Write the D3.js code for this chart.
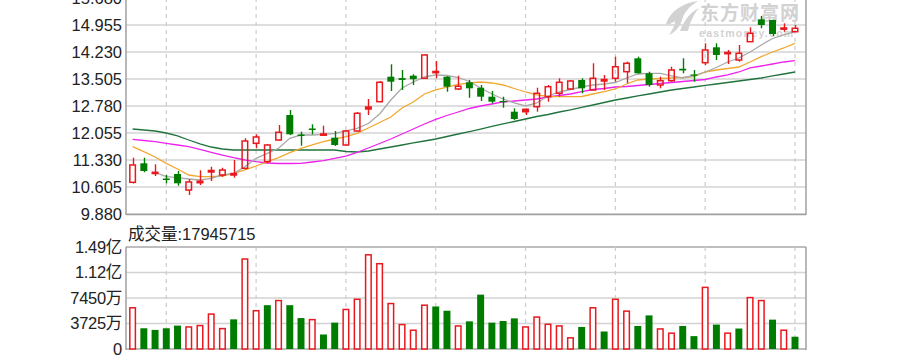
<!DOCTYPE html>
<html><head><meta charset="utf-8">
<script src="https://cdn.jsdelivr.net/npm/d3@7/dist/d3.min.js"></script>
<style>html,body{margin:0;padding:0;background:#fff;}svg{display:block;}</style>
</head><body>
<svg id="c" width="898" height="357"></svg>
<script>
// ---- data ----
const openP  = [10.731,11.241,10.98,10.833,10.954,10.524,10.72,11.008,10.927,10.927,11.107,11.778,11.284,11.867,12.538,12.015,12.176,12.001,11.929,11.733,12.109,12.70,12.896,13.567,13.53,13.594,13.524,13.68,13.567,13.237,13.417,13.271,13.03,12.914,12.627,12.627,12.761,13.03,13.121,13.237,13.478,13.21,13.451,13.524,13.701,14.061,13.658,13.344,13.459,13.78,13.626,13.943,14.356,14.19,14.015,14.507,15.108,15.09,14.848,14.775];
const highP  = [11.392,11.392,11.215,10.927,11.035,10.82,11.053,11.15,11.123,11.33,11.913,12.02,11.76,12.27,12.673,12.09,12.289,12.251,12.109,12.136,12.62,12.968,13.45,13.90,13.747,13.631,14.168,13.989,13.58,13.594,13.478,13.344,13.183,13.03,12.718,12.718,13.271,13.344,13.524,13.478,13.524,13.927,13.613,14.104,13.97,14.104,13.701,13.567,13.835,14.061,13.747,14.464,14.464,14.284,14.418,14.893,15.197,15.10,15.0,14.955];
const lowP   = [10.70,11.00,10.90,10.704,10.64,10.39,10.659,10.766,10.88,10.855,11.08,11.644,11.24,11.85,12.0,11.714,12.02,11.988,11.706,11.72,12.09,12.538,12.88,13.183,13.21,13.344,13.51,13.524,13.164,13.21,13.0,12.914,12.853,12.734,12.404,12.538,12.627,12.896,13.03,13.21,13.121,13.2,13.21,13.433,13.39,13.65,13.298,13.255,13.433,13.658,13.433,13.881,14.015,13.908,13.97,14.50,14.867,14.66,14.775,14.77];
const closeP = [11.196,11.035,11.00,10.793,10.704,10.74,10.76,11.048,11.061,10.967,11.84,11.948,11.733,12.074,12.02,11.975,12.136,12.028,11.733,12.109,12.584,12.753,13.417,13.433,13.48,13.50,14.15,13.707,13.298,13.31,13.255,13.03,12.896,12.888,12.431,12.691,13.121,13.298,13.417,13.451,13.255,13.524,13.492,13.835,13.927,13.658,13.344,13.459,13.747,13.735,13.599,14.284,14.15,14.217,14.195,14.732,14.955,14.713,14.875,14.867];
const volume = [60200000,30300000,27900000,30300000,34200000,32200000,34200000,51000000,29800000,43300000,131400000,55900000,64000000,70750000,64000000,45200000,42900000,21200000,38500000,57750000,72600000,137600000,124600000,66400000,35650000,27450000,64000000,62100000,55900000,33650000,40400000,79400000,38500000,40900000,44750000,32200000,46650000,36100000,33650000,16300000,32200000,60200000,25550000,72600000,55300000,33650000,49100000,29300000,23100000,33650000,18800000,90000000,35650000,23100000,29900000,75100000,70750000,42900000,27450000,17945715];
const ma5  = [null,null,10.994,10.882,10.855,10.820,10.793,10.839,10.927,10.973,11.150,11.376,11.510,11.644,11.913,12.001,12.001,12.020,12.042,12.109,12.181,12.310,12.565,12.941,13.263,13.425,13.559,13.613,13.599,13.545,13.438,13.263,13.102,12.968,12.861,12.780,12.861,13.049,13.156,13.223,13.290,13.344,13.371,13.411,13.532,13.639,13.658,13.658,13.586,13.532,13.599,13.693,13.814,13.962,14.069,14.230,14.418,14.593,14.687,14.775];
const ma10 = [11.687,11.553,11.411,11.241,11.088,10.927,10.882,10.882,10.900,10.973,11.062,11.169,11.284,11.392,11.526,11.644,11.733,11.822,11.894,11.956,12.047,12.189,12.337,12.485,12.726,12.888,13.102,13.210,13.290,13.358,13.398,13.425,13.398,13.344,13.250,13.156,13.076,13.035,13.030,13.030,13.035,13.102,13.169,13.237,13.371,13.478,13.505,13.519,13.532,13.545,13.567,13.693,13.747,13.787,13.827,13.962,14.104,14.230,14.338,14.464];
const ma20 = [11.886,11.854,11.822,11.779,11.733,11.687,11.617,11.537,11.464,11.392,11.330,11.284,11.250,11.236,11.236,11.241,11.276,11.311,11.376,11.437,11.537,11.652,11.773,11.894,12.028,12.163,12.297,12.418,12.525,12.619,12.713,12.780,12.834,12.888,12.914,12.941,12.968,13.022,13.062,13.102,13.169,13.223,13.250,13.290,13.304,13.331,13.357,13.384,13.411,13.438,13.465,13.492,13.559,13.613,13.693,13.801,13.854,13.908,13.962,13.997];
const ma60 = [12.162,12.136,12.109,12.055,11.975,11.867,11.760,11.679,11.625,11.599,11.599,11.599,11.599,11.599,11.599,11.599,11.599,11.599,11.599,11.558,11.545,11.572,11.625,11.679,11.733,11.787,11.840,11.894,11.961,12.028,12.095,12.162,12.230,12.297,12.364,12.431,12.498,12.552,12.619,12.673,12.740,12.807,12.874,12.941,12.995,13.049,13.102,13.156,13.210,13.250,13.290,13.331,13.371,13.411,13.451,13.492,13.532,13.586,13.639,13.693];
const priceTicks = [9.880,10.605,11.330,12.055,12.780,13.505,14.230,14.955,15.680];
const volTicks = [0,37250000,74500000,111750000,149000000];
const volTickLabels = ["0","3725万","7450万","1.12亿","1.49亿"];
const volTitle = "成交量:17945715";

// ---- drawing ----
const RED = "#e8191e", GREEN = "#007d00";
const svg = d3.select("#c");
const n = closeP.length;
const L = 126, R = 806;
const x = d3.scaleBand().domain(d3.range(n)).range([127, 800.6]).paddingInner(0.38).paddingOuter(0.19);
const cx = i => x(i) + x.bandwidth()/2;
const y = d3.scaleLinear().domain([9.88, 15.68]).range([214, -2]);
const yv = d3.scaleLinear().domain([0, 149000000]).range([349, 247]);
const font = "'Liberation Sans', Arial, 'Noto Sans CJK SC', sans-serif";

// watermark
const wm = svg.append("g").attr("fill", "#d2d2d2");
wm.append("path").attr("d", "M666,24 C670,11 683,3 698,1 C690,6 684,12 682,20 C680,26 676,32 669,35 C673,29 675,25 675,21 C672,23 669,25 666,24 Z");
wm.append("path").attr("d", "M680,31 C684,21 690,12 699,8 C694,14 690,22 688,31 Z");
wm.append("text").attr("x", 700).attr("y", 20).attr("font-family", "'Noto Sans CJK SC', sans-serif").attr("font-size", 19).attr("font-weight", "bold").attr("letter-spacing", 1).text("东方财富网");
wm.append("text").attr("x", 699).attr("y", 37).attr("font-family", font).attr("font-size", 10.5).attr("font-weight","bold").attr("letter-spacing", 1.3).text("eastmoney.com");

// price grid
const gp = svg.append("g");
gp.selectAll("line.h").data(priceTicks).join("line")
  .attr("x1", L).attr("x2", R).attr("y1", d => y(d)).attr("y2", d => y(d))
  .attr("stroke", "#d3d3d3").attr("stroke-width", 1.5);
const vIdx = d3.range(3, n, 8);
gp.selectAll("line.v").data(vIdx).join("line")
  .attr("x1", d => cx(d)).attr("x2", d => cx(d)).attr("y1", -2).attr("y2", 214)
  .attr("stroke", "#cccccc").attr("stroke-width", 1.2).attr("stroke-dasharray", "4,4");
// volume grid
const gv = svg.append("g");
gv.selectAll("line.h").data(volTicks).join("line")
  .attr("x1", L).attr("x2", R).attr("y1", d => yv(d)).attr("y2", d => yv(d))
  .attr("stroke", (d,i) => (i===0||i===volTicks.length-1) ? "#a8a8a8" : "#d3d3d3").attr("stroke-width", 1.5);
gv.selectAll("line.v").data(vIdx).join("line")
  .attr("x1", d => cx(d)).attr("x2", d => cx(d)).attr("y1", 247).attr("y2", 349)
  .attr("stroke", "#cccccc").attr("stroke-width", 1.2).attr("stroke-dasharray", "4,4");

// borders
svg.append("line").attr("x1", L).attr("x2", L).attr("y1", -2).attr("y2", 215).attr("stroke", "#a0a0a0").attr("stroke-width", 1.5);
svg.append("line").attr("x1", R).attr("x2", R).attr("y1", -2).attr("y2", 215).attr("stroke", "#a0a0a0").attr("stroke-width", 1.5);
svg.append("line").attr("x1", L).attr("x2", R).attr("y1", 214.5).attr("y2", 214.5).attr("stroke", "#a0a0a0").attr("stroke-width", 1.5);
svg.append("line").attr("x1", L).attr("x2", L).attr("y1", 247).attr("y2", 350).attr("stroke", "#a0a0a0").attr("stroke-width", 1.5);
svg.append("line").attr("x1", R).attr("x2", R).attr("y1", 247).attr("y2", 350).attr("stroke", "#a0a0a0").attr("stroke-width", 1.5);

// axis labels (via d3 axes)
const ay = svg.append("g").attr("transform", `translate(${L-4},0)`)
  .call(d3.axisLeft(y).tickValues(priceTicks).tickFormat(d3.format(".3f")).tickSize(0).tickPadding(0));
ay.select(".domain").remove();
ay.selectAll("text").attr("font-family", font).attr("font-size", 16.5).attr("fill", "#222");
const av = svg.append("g").attr("transform", `translate(${L-4},0)`)
  .call(d3.axisLeft(yv).tickValues(volTicks).tickFormat((d,i) => volTickLabels[i]).tickSize(0).tickPadding(0));
av.select(".domain").remove();
av.selectAll("text").attr("font-family", font).attr("font-size", 16.5).attr("fill", "#222").attr("letter-spacing", -0.3);
svg.append("text").attr("x", 128).attr("y", 240).attr("font-family", font).attr("font-size", 16.5).attr("fill", "#222").text(volTitle);

// MA lines
const maDefs = [[ma60, "#20733c"], [ma20, "#ee22ee"], [ma10, "#f0a830"], [ma5, "#a9a9a9"]];
const line = d3.line().defined(d => d[1] != null).x(d => cx(d[0])).y(d => y(d[1]));
maDefs.forEach(([arr, col]) => {
  svg.append("path").datum(arr.map((v,i) => [i, v])).attr("d", line)
    .attr("fill", "none").attr("stroke", col).attr("stroke-width", 1.3);
});

// candles
const bw = x.bandwidth();
const cg = svg.append("g");
d3.range(n).forEach(i => {
  const o = openP[i], c = closeP[i], h = highP[i], l = lowP[i];
  const up = c >= o;
  const col = up ? RED : GREEN;
  const top = y(Math.max(o, c)), bot = y(Math.min(o, c));
  const bh = Math.max(bot - top, 1.2);
  const xm = Math.round(cx(i)) + 0.5;
  if (up) {
    cg.append("line").attr("x1", xm).attr("x2", xm).attr("y1", y(h)).attr("y2", top).attr("stroke", col).attr("stroke-width", 1.4);
    cg.append("line").attr("x1", xm).attr("x2", xm).attr("y1", top + bh).attr("y2", Math.max(y(l), top + bh)).attr("stroke", col).attr("stroke-width", 1.4);
    cg.append("rect").attr("x", cx(i) - bw/2 + 0.7).attr("y", top).attr("width", bw - 1.4).attr("height", bh)
      .attr("fill", bh > 2.5 ? "none" : col).attr("stroke", col).attr("stroke-width", 1.5);
  } else {
    cg.append("line").attr("x1", xm).attr("x2", xm).attr("y1", y(h)).attr("y2", y(l)).attr("stroke", col).attr("stroke-width", 1.4);
    cg.append("rect").attr("x", cx(i) - bw/2).attr("y", top).attr("width", bw).attr("height", bh).attr("fill", col);
  }
});

// volume bars
const vg = svg.append("g");
d3.range(n).forEach(i => {
  const prev = i > 0 ? closeP[i-1] : openP[i];
  const up = closeP[i] >= prev;
  const top = yv(volume[i]), hgt = yv(0) - top;
  if (up) {
    vg.append("rect").attr("x", cx(i) - bw/2 + 0.7).attr("y", top).attr("width", bw - 1.4).attr("height", hgt)
      .attr("fill", "#fff").attr("stroke", RED).attr("stroke-width", 1.5);
  } else {
    vg.append("rect").attr("x", cx(i) - bw/2).attr("y", top).attr("width", bw).attr("height", hgt).attr("fill", GREEN);
  }
});
</script>
</body></html>
